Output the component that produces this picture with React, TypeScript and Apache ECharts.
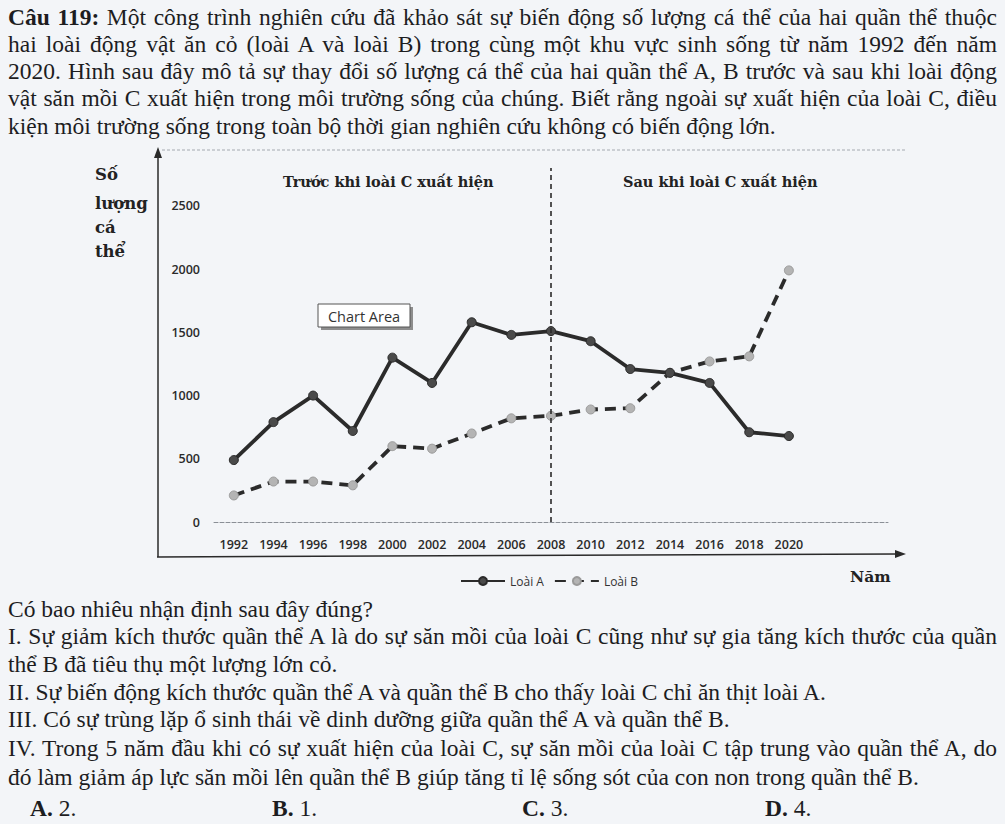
import React, { useEffect, useRef } from 'react';
import * as echarts from 'echarts';

const years = ['1992', '1994', '1996', '1998', '2000', '2002', '2004', '2006', '2008', '2010', '2012', '2014', '2016', '2018', '2020'];
const categories = [...years, '', ''];
const loaiA = [490, 790, 1000, 720, 1300, 1100, 1580, 1480, 1510, 1430, 1210, 1180, 1100, 710, 680];
const loaiB = [210, 320, 320, 290, 600, 580, 700, 820, 840, 890, 900, 1180, 1270, 1310, 1990];
const seriesNames = ['Loài A', 'Loài B'];
const dividerYear = '2008';
const beforeTitle = 'Trước khi loài C xuất hiện';
const afterTitle = 'Sau khi loài C xuất hiện';
const yNameLines = ['Số', 'lượng', 'cá', 'thể'];
const xName = 'Năm';

type Line = { html: string; top: number; justify: boolean };

const topLines: Line[] = [
  { html: '<b>Câu 119:</b> Một công trình nghiên cứu đã khảo sát sự biến động số lượng cá thể của hai quần thể thuộc', top: 5, justify: true },
  { html: 'hai loài động vật ăn cỏ (loài A và loài B) trong cùng một khu vực sinh sống từ năm 1992 đến năm', top: 32, justify: true },
  { html: '2020. Hình sau đây mô tả sự thay đổi số lượng cá thể của hai quần thể A, B trước và sau khi loài động', top: 59, justify: true },
  { html: 'vật săn mồi C xuất hiện trong môi trường sống của chúng. Biết rằng ngoài sự xuất hiện của loài C, điều', top: 86, justify: true },
  { html: 'kiện môi trường sống trong toàn bộ thời gian nghiên cứu không có biến động lớn.', top: 114, justify: false },
];

const bottomLines: Line[] = [
  { html: 'Có bao nhiêu nhận định sau đây đúng?', top: 597, justify: false },
  { html: 'I. Sự giảm kích thước quần thể A là do sự săn mồi của loài C cũng như sự gia tăng kích thước của quần', top: 624, justify: true },
  { html: 'thể B đã tiêu thụ một lượng lớn cỏ.', top: 652, justify: false },
  { html: 'II. Sự biến động kích thước quần thể A và quần thể B cho thấy loài C chỉ ăn thịt loài A.', top: 680, justify: false },
  { html: 'III. Có sự trùng lặp ổ sinh thái về dinh dưỡng giữa quần thể A và quần thể B.', top: 707, justify: false },
  { html: 'IV. Trong 5 năm đầu khi có sự xuất hiện của loài C, sự săn mồi của loài C tập trung vào quần thể A, do', top: 736, justify: true },
  { html: 'đó làm giảm áp lực săn mồi lên quần thể B giúp tăng tỉ lệ sống sót của con non trong quần thể B.', top: 765, justify: false },
];

const answers = [
  { label: 'A.', value: ' 2.', left: 30 },
  { label: 'B.', value: ' 1.', left: 272 },
  { label: 'C.', value: ' 3.', left: 522 },
  { label: 'D.', value: ' 4.', left: 765 },
];

const serif = '"Liberation Serif", "Times New Roman", serif';
const headSerif = '"DejaVu Serif", "Liberation Serif", serif';
const sans = '"Open Sans", "Liberation Sans", sans-serif';
const ink = '#1d1d1f';
const bodySize = 23.5;

export default function App() {
  const ref = useRef<HTMLDivElement>(null);

  useEffect(() => {
    if (!ref.current) return;
    const chart = echarts.init(ref.current, undefined, { renderer: 'svg' });
    const headFont = { fontFamily: headSerif, fontWeight: 'bold' as const, fill: '#222' };
    chart.setOption({
      animation: false,
      backgroundColor: 'transparent',
      grid: { left: 214, right: 117, top: 168, bottom: 302, containLabel: false },
      legend: {
        left: 455,
        top: 570,
        itemWidth: 44,
        itemHeight: 10,
        itemGap: 10,
        textStyle: { fontFamily: sans, fontSize: 12, color: '#333' },
        data: seriesNames,
      },
      xAxis: {
        type: 'category',
        data: categories,
        boundaryGap: true,
        axisLine: { show: true, lineStyle: { color: '#8a8f96', type: [4, 2], width: 1 } },
        axisTick: { show: false },
        axisLabel: { fontFamily: sans, fontSize: 12.5, fontWeight: 600, color: '#2a2a2a', margin: 16, interval: 0 },
        splitLine: { show: false },
      },
      yAxis: {
        type: 'value',
        min: 0,
        max: 2800,
        interval: 500,
        axisLine: { show: false },
        axisTick: { show: false },
        splitLine: { show: false },
        axisLabel: {
          fontFamily: sans,
          fontSize: 12.5,
          fontWeight: 600,
          color: '#2a2a2a',
          margin: 14,
          showMaxLabel: false,
          formatter: (v: number) => (v > 2500 ? '' : String(v)),
        },
      },
      series: [
        {
          name: seriesNames[0],
          type: 'line',
          data: loaiA,
          symbol: 'circle',
          symbolSize: 9,
          lineStyle: { color: '#2b2b2b', width: 3.8 },
          itemStyle: { color: '#4a4a4a', borderColor: '#2a2a2a', borderWidth: 1 },
          markLine: {
            silent: true,
            symbol: ['none', 'none'],
            label: { show: false },
            lineStyle: { color: '#2a2a2a', type: [5, 4], width: 1.6 },
            data: [{ xAxis: dividerYear }],
          },
          z: 3,
        },
        {
          name: seriesNames[1],
          type: 'line',
          data: loaiB,
          symbol: 'circle',
          symbolSize: 9,
          lineStyle: { color: '#2b2b2b', width: 3.8, type: [11, 7] },
          itemStyle: { color: '#b4b4b4', borderColor: '#9a9a9a', borderWidth: 1 },
          z: 2,
        },
      ],
      graphic: [
        { type: 'line', shape: { x1: 162, y1: 150, x2: 906, y2: 150 }, style: { stroke: '#a4a9b0', lineWidth: 1, lineDash: [3, 2] } },
        { type: 'line', shape: { x1: 158, y1: 557, x2: 158, y2: 156 }, style: { stroke: '#2a2a2a', lineWidth: 1.5 } },
        { type: 'polygon', shape: { points: [[158, 147], [154, 158], [162, 158]] }, style: { fill: '#2a2a2a' } },
        { type: 'line', shape: { x1: 157, y1: 557, x2: 897, y2: 554 }, style: { stroke: '#2a2a2a', lineWidth: 1.5 } },
        { type: 'polygon', shape: { points: [[906, 554], [895, 550], [895, 558]] }, style: { fill: '#2a2a2a' } },
        { type: 'text', x: 283, y: 181, style: { text: beforeTitle, fontSize: 14.5, textVerticalAlign: 'middle', ...headFont } },
        { type: 'text', x: 623, y: 181, style: { text: afterTitle, fontSize: 14.5, textVerticalAlign: 'middle', ...headFont } },
        ...yNameLines.map((t, i) => ({
          type: 'text',
          x: 95,
          y: [174, 203, 227, 251][i],
          style: { text: t, fontSize: 16.5, textVerticalAlign: 'middle', ...headFont },
        })),
        { type: 'text', x: 850, y: 576, style: { text: xName, fontSize: 15.5, textVerticalAlign: 'middle', ...headFont } },
        { type: 'rect', shape: { x: 321, y: 307, width: 92, height: 23 }, style: { fill: '#8d8d8d' } },
        { type: 'rect', shape: { x: 318, y: 304, width: 92, height: 23 }, style: { fill: '#ffffff', stroke: '#555', lineWidth: 1 } },
        { type: 'text', x: 364, y: 316, style: { text: 'Chart Area', fontFamily: sans, fontSize: 14.5, fill: '#333', textAlign: 'center', textVerticalAlign: 'middle' } },
      ],
    });
    return () => chart.dispose();
  }, []);

  const lineStyle = (l: Line): React.CSSProperties => ({
    position: 'absolute',
    left: 8,
    top: l.top,
    width: 989,
    fontFamily: serif,
    fontSize: bodySize,
    lineHeight: '24px',
    color: ink,
    textAlign: l.justify ? 'justify' : 'left',
    textAlignLast: l.justify ? 'justify' : 'left',
    whiteSpace: 'nowrap',
  });

  return (
    <div style={{ position: 'absolute', left: 0, top: 0, width: 1005, height: 824, background: '#f3f5f8', overflow: 'hidden' }}>
      <div ref={ref} style={{ position: 'absolute', left: 0, top: 0, width: 1005, height: 824 }} />
      {[...topLines, ...bottomLines].map((l, i) => (
        <div key={i} style={lineStyle(l)} dangerouslySetInnerHTML={{ __html: l.html }} />
      ))}
      {answers.map((a, i) => (
        <div
          key={'a' + i}
          style={{ position: 'absolute', left: a.left, top: 796, fontFamily: serif, fontSize: bodySize, lineHeight: '24px', color: ink }}
        >
          <b>{a.label}</b>
          {a.value}
        </div>
      ))}
    </div>
  );
}
